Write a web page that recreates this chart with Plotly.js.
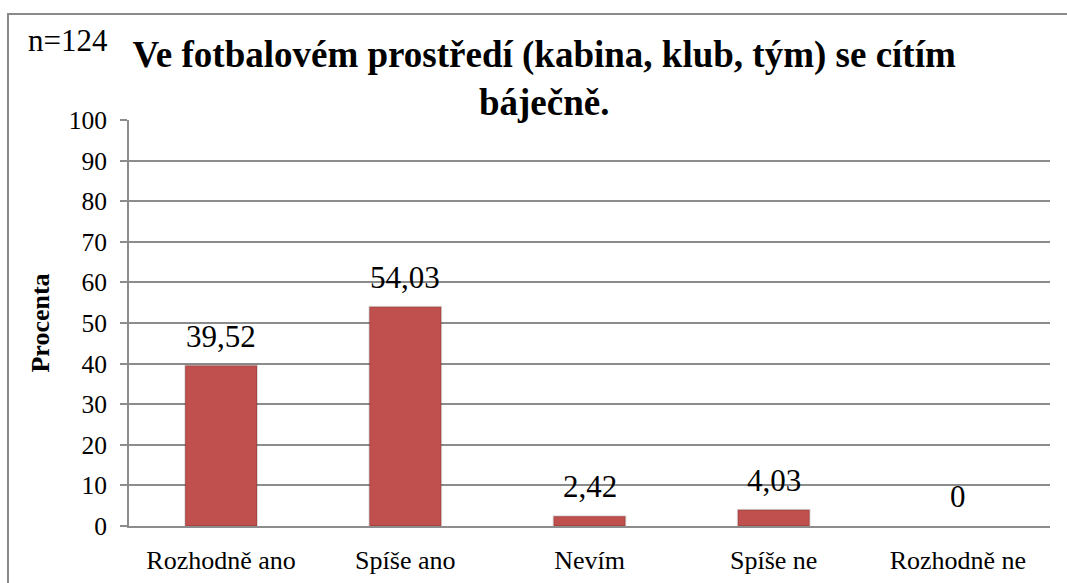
<!DOCTYPE html>
<html>
<head>
<meta charset="utf-8">
<script src="https://cdn.plot.ly/plotly-3.0.1.min.js"></script>
<style>
html,body{margin:0;padding:0;background:#fff;}
#chart{width:1067px;height:583px;}
</style>
</head>
<body>
<div id="chart"></div>
<script>
const categories = ['Rozhodně ano', 'Spíše ano', 'Nevím', 'Spíše ne', 'Rozhodně ne'];
const values = [39.52, 54.03, 2.42, 4.03, 0];
const valueLabels = ['39,52', '54,03', '2,42', '4,03', '0'];
const yTicks = [0, 10, 20, 30, 40, 50, 60, 70, 80, 90, 100];

const FONT = 'Liberation Serif';
const GRID = '#8c8c8c';

const trace = {
  type: 'bar',
  x: categories,
  y: values,
  marker: {
    color: '#C0504D',
    line: {color: 'rgba(0,0,0,0.13)', width: values.map(v => v > 0 ? 2 : 0)}
  },
  hoverinfo: 'skip'
};

const annotations = categories.map((c, i) => ({
  x: c, y: values[i], xref: 'x', yref: 'y',
  text: valueLabels[i], showarrow: false,
  yanchor: 'bottom', yshift: 10,
  font: {family: FONT, size: 31, color: '#000'}
}));

annotations.push({
  text: 'n=124', xref: 'paper', yref: 'paper',
  x: -0.1118, y: 1.195, xanchor: 'left', yanchor: 'middle',
  showarrow: false, font: {family: FONT, size: 31, color: '#000'}
});

const layout = {
  width: 1067, height: 583,
  margin: {l: 129, r: 17, t: 120, b: 57},
  paper_bgcolor: '#fff', plot_bgcolor: '#fff',
  showlegend: false,
  bargap: 0.61,
  font: {family: FONT, color: '#000'},
  title: {
    text: '<b>Ve fotbalovém prostředí (kabina, klub, tým) se cítím<br>báječně.</b>',
    font: {family: FONT, size: 37, color: '#000'},
    x: 0.51, xref: 'container', xanchor: 'center',
    y: 1 - 67/583, yref: 'container', yanchor: 'top'
  },
  xaxis: {
    type: 'category',
    showline: true, linecolor: GRID, linewidth: 2,
    ticks: '', showgrid: false,
    tickfont: {family: FONT, size: 26, color: '#000'},
    ticklabelstandoff: 10,
    fixedrange: true
  },
  yaxis: {
    range: [0, 100],
    tickvals: yTicks,
    ticktext: yTicks.map(String),
    showline: true, linecolor: GRID, linewidth: 2,
    ticks: 'outside', ticklen: 7, tickcolor: GRID, tickwidth: 2,
    showgrid: true, gridcolor: GRID, gridwidth: 2,
    zeroline: false,
    tickfont: {family: FONT, size: 25.5, color: '#000'},
    ticklabelstandoff: 8,
    title: {text: '<b>Procenta</b>', font: {family: FONT, size: 26, color: '#000'}, standoff: 12},
    fixedrange: true
  },
  shapes: [{
    type: 'rect', xref: 'paper', yref: 'paper',
    x0: -0.1314, x1: 1.03, y0: -0.2, y1: 1.2611,
    line: {color: '#8a8a8a', width: 2}, fillcolor: 'rgba(0,0,0,0)', layer: 'below'
  }],
  annotations: annotations
};

Plotly.newPlot('chart', [trace], layout, {displayModeBar: false, staticPlot: true});
</script>
</body>
</html>
